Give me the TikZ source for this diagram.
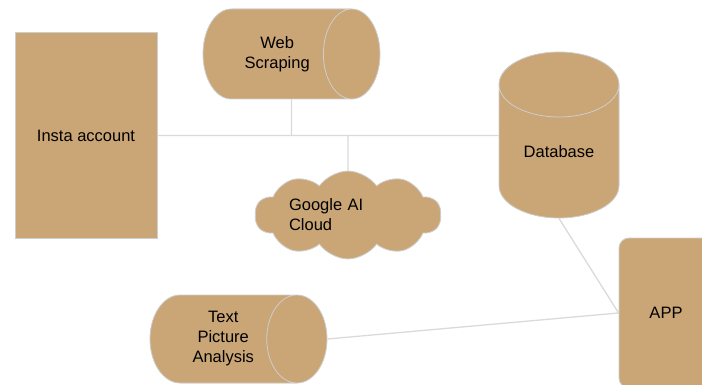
\documentclass[tikz,border=0pt]{standalone}
\usepackage{fontspec}
\setmainfont{Liberation Sans}
\usetikzlibrary{positioning}
\usetikzlibrary{shapes.geometric,shapes.symbols}
\definecolor{tan}{RGB}{202,165,118}
\definecolor{rim}{RGB}{206,206,206}
\definecolor{wire}{RGB}{218,218,218}

\begin{document}
\begin{tikzpicture}[x=1pt,y=-1pt,
    box/.style={draw=rim,fill=tan,line width=0.8pt,inner sep=0pt,align=center,
      font=\fontsize{16.5}{20}\selectfont},
    drum/.style={box,cylinder,cylinder uses custom fill,anchor=shape center,
      cylinder body fill=tan,cylinder end fill=tan},
    wire/.style={draw=wire,line width=1.3pt}]
    \useasboundingbox (0,0) rectangle (702,385);

    \node (insta) [box,minimum width=142pt,minimum height=206pt] at (86,135.5) {Insta account};
    \node (scrape) [drum,minimum height=177pt,minimum width=90pt,aspect=1.6] at (291.5,54) {Web\\Scraping};
    \node (base) [drum,shape border rotate=90,minimum width=120pt,minimum height=166pt,aspect=0.92] at (559,135) {Database};
    \node (google) [box,cloud,cloud puffs=10,cloud puff arc=110,aspect=2.6,
      minimum width=186pt,minimum height=74pt,text width=118pt,align=left] at (348,215) {Google AI\\Cloud};
    \node (textpic) [drum,minimum height=177pt,minimum width=88pt,aspect=1.1] at (238.5,339) {Text\\Picture\\Analysis};
    \node (app) [box,rounded corners=10pt,minimum width=94pt,minimum height=150pt] at (666,313) {APP};

    \coordinate (hub1) at (scrape.shape center |- insta.east);
    \coordinate (hub2) at (google.north |- insta.east);

    \draw[wire]
      (insta.east) -- (base.west |- insta.east)
      (scrape.shape center |- scrape.south) -- (hub1)
      (hub2) -- (google.north)
      (base.south) -- (app.west)
      (textpic.east) -- (app.west)
    ;
\end{tikzpicture}
\end{document}
